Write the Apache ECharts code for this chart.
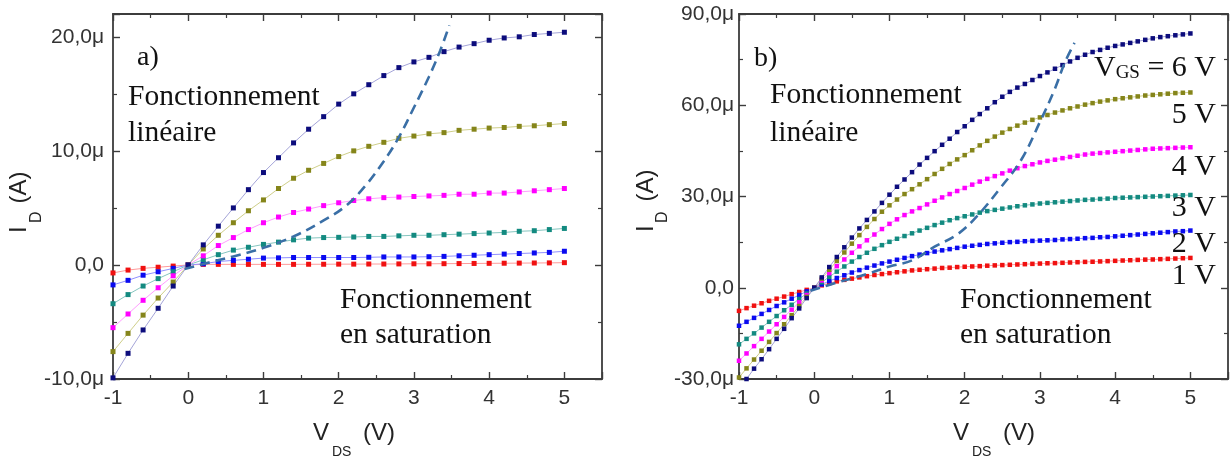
<!DOCTYPE html>
<html><head><meta charset="utf-8">
<script src="https://cdn.jsdelivr.net/npm/echarts@6/dist/echarts.min.js"></script>
<style>html,body{margin:0;padding:0;background:#fff}#c{width:1231px;height:459px}</style>
</head><body><div id="c"></div>
<script>
// ---------- data ----------
const xTicks = [-1, 0, 1, 2, 3, 4, 5];
const xTickLabels = ['-1', '0', '1', '2', '3', '4', '5'];
const yTicksA = [-10, 0, 10, 20];
const yTickLabelsA = ['-10,0μ', '0,0', '10,0μ', '20,0μ'];
const yTicksB = [-30, 0, 30, 60, 90];
const yTickLabelsB = ['-30,0μ', '0,0', '30,0μ', '60,0μ', '90,0μ'];

// panel a) : VDS step 0.2 V, ID in µA
const vdsA = [-1,-0.8,-0.6,-0.4,-0.2,0,0.2,0.4,0.6,0.8,1,1.2,1.4,1.6,1.8,2,2.2,2.4,2.6,2.8,3,3.2,3.4,3.6,3.8,4,4.2,4.4,4.6,4.8,5];
const a6 = [-9.9,-7.75,-5.7,-3.8,-1.85,0,1.76,3.4,5.0,6.6,8.1,9.4,10.7,11.9,13.0,14.1,15.0,15.8,16.6,17.3,17.8,18.2,18.7,19.1,19.4,19.7,19.9,20.0,20.2,20.3,20.4];
const a5 = [-7.6,-6.0,-4.4,-2.9,-1.5,0,1.4,2.6,3.7,4.75,5.7,6.7,7.6,8.3,8.9,9.5,10.0,10.4,10.75,11.1,11.3,11.5,11.6,11.8,11.9,12.0,12.05,12.15,12.2,12.3,12.4];
const a4 = [-5.5,-4.3,-3.1,-2.0,-0.95,0,0.8,1.7,2.4,3.1,3.7,4.2,4.6,4.9,5.2,5.45,5.65,5.8,5.9,5.95,6.0,6.05,6.1,6.2,6.2,6.3,6.3,6.4,6.5,6.6,6.7];
const a3 = [-3.4,-2.6,-1.85,-1.2,-0.6,0,0.45,0.9,1.3,1.55,1.8,2.0,2.2,2.35,2.4,2.42,2.45,2.5,2.5,2.55,2.6,2.6,2.65,2.7,2.75,2.8,2.85,2.95,3.0,3.1,3.2];
const a2 = [-1.75,-1.35,-0.9,-0.6,-0.3,0,0.1,0.3,0.4,0.5,0.6,0.62,0.65,0.65,0.65,0.65,0.65,0.67,0.7,0.7,0.7,0.72,0.75,0.8,0.85,0.9,0.95,1.0,1.05,1.1,1.2];
const a1 = [-0.7,-0.45,-0.3,-0.2,-0.1,0,0.05,0.05,0.05,0.05,0.05,0.05,0.05,0.06,0.06,0.07,0.07,0.08,0.08,0.09,0.1,0.1,0.11,0.12,0.13,0.14,0.15,0.16,0.17,0.18,0.2];
const satXA = [-0.05,0.3,0.6,1.0,1.4,1.8,2.1,2.35,2.6,2.8,3.0,3.2,3.35,3.47];
const satYA = [-0.35,0.25,0.75,1.5,2.5,3.9,5.2,6.9,9.1,11.2,13.8,16.5,18.8,21.0];

// panel b) : VDS step 0.1 V, ID in µA
const vdsB = [-1,-0.9,-0.8,-0.7,-0.6,-0.5,-0.4,-0.3,-0.2,-0.1,0,0.1,0.2,0.3,0.4,0.5,0.6,0.7,0.8,0.9,1,1.1,1.2,1.3,1.4,1.5,1.6,1.7,1.8,1.9,2,2.1,2.2,2.3,2.4,2.5,2.6,2.7,2.8,2.9,3,3.1,3.2,3.3,3.4,3.5,3.6,3.7,3.8,3.9,4,4.1,4.2,4.3,4.4,4.5,4.6,4.7,4.8,4.9,5];
const b6 = [-33,-30,-26.6,-23.5,-20.2,-16.8,-13.5,-10,-6.8,-3.4,0,3.4,6.8,10.1,13.3,16.5,19.5,22.3,25.1,27.9,30.6,33.2,35.6,38.0,40.5,42.7,44.9,47.0,49.0,51.2,53.1,55.2,57.1,59.0,61.0,62.8,64.4,65.8,67.0,68.3,69.6,70.8,72.0,73.2,74.4,75.6,76.6,77.5,78.2,78.9,79.5,80.0,80.5,81.0,81.5,82.0,82.4,82.7,83.0,83.3,83.6];
const b5 = [-29.5,-26.5,-23.6,-20.7,-17.8,-14.9,-12,-9,-6,-3,0,3,5.9,8.8,11.6,14.5,17.3,20.0,22.6,25.0,27.1,29.0,30.8,32.4,34.0,35.7,37.4,39.1,40.7,42.2,43.6,45.2,46.8,48.3,49.7,51.0,52.2,53.3,54.3,55.2,56.0,56.8,57.6,58.3,59.0,59.6,60.2,60.7,61.2,61.6,62.0,62.3,62.6,62.9,63.2,63.4,63.6,63.8,64.0,64.1,64.2];
const b4 = [-24,-21.6,-19.2,-16.8,-14.4,-12,-9.6,-7.2,-4.8,-2.4,0,2.4,4.8,7.1,9.3,11.5,13.6,15.6,17.5,19.3,21.0,22.5,23.9,25.1,26.2,27.4,28.6,29.7,30.8,31.8,32.8,33.9,34.9,35.8,36.7,37.6,38.5,39.3,40.0,40.6,41.2,41.7,42.1,42.6,43.0,43.4,43.8,44.1,44.3,44.5,44.7,44.9,45.1,45.3,45.5,45.7,45.8,45.9,46.0,46.1,46.2];
const b3 = [-18.6,-16.8,-15.0,-13.1,-11.2,-9.3,-7.4,-5.6,-3.7,-1.9,0,1.8,3.6,5.3,7.0,8.6,10.1,11.5,12.8,14.0,15.1,16.1,17.0,17.9,18.8,19.7,20.6,21.4,22.2,22.9,23.5,24.1,24.7,25.2,25.6,26.0,26.4,26.8,27.1,27.4,27.7,27.9,28.1,28.3,28.5,28.7,28.9,29.0,29.2,29.3,29.5,29.6,29.7,29.8,29.9,30.0,30.1,30.2,30.3,30.4,30.5];
const b2 = [-12.5,-11.2,-9.9,-8.6,-7.3,-6.0,-4.8,-3.6,-2.4,-1.2,0,1.1,2.2,3.2,4.1,5.0,5.8,6.6,7.3,8.0,8.6,9.2,9.8,10.4,10.9,11.4,11.9,12.3,12.7,13.1,13.5,13.8,14.1,14.4,14.6,14.8,15.0,15.1,15.3,15.4,15.5,15.6,15.7,15.9,16.0,16.1,16.3,16.4,16.6,16.7,16.9,17.1,17.3,17.5,17.7,17.9,18.1,18.3,18.5,18.6,18.8];
const b1 = [-7.6,-6.7,-5.9,-5.1,-4.3,-3.6,-2.9,-2.1,-1.4,-0.7,0,0.8,1.5,2.1,2.6,3.0,3.4,3.8,4.2,4.5,4.8,5.1,5.4,5.7,5.9,6.1,6.3,6.5,6.6,6.8,6.9,7.0,7.1,7.25,7.35,7.45,7.55,7.65,7.75,7.85,7.95,8.05,8.1,8.2,8.3,8.4,8.5,8.55,8.65,8.75,8.85,8.95,9.05,9.15,9.25,9.3,9.4,9.5,9.6,9.7,9.8];
const satXB = [-0.05,0.3,0.7,1.0,1.3,1.6,1.9,2.17,2.48,2.75,3.0,3.2,3.33,3.46];
const satYB = [-1,1.7,4.5,7.0,9.0,13.5,17.5,23.7,33,42,54.5,65.5,74,80.5];

const vgsLabels = ['{v|V}{s|GS}{v| = 6 V}', '5 V', '4 V', '3 V', '2 V', '1 V'];

// ---------- styles ----------
const markerCols = ['#0c0c7c', '#85851a', '#ff00ff', '#138a80', '#0a0af0', '#f01010'];
const lineCols   = ['#a4a4d8', '#cfcf8a', '#ff9eff', '#86c6c0', '#9090ff', '#ff9a9a'];
const axisCol = '#3c3c3c';

function xAxes(gi) {
  const base = {
    type: 'value', gridIndex: gi, min: -1, max: 5.5, interval: 1,
    axisLine: { show: true, onZero: false, lineStyle: { color: axisCol, width: 1.8 } },
    axisTick: { show: true, inside: true, length: 7, lineStyle: { color: axisCol, width: 1.4 } },
    minorTick: { show: true, splitNumber: 2, length: 4, lineStyle: { color: axisCol, width: 1.2 } },
    splitLine: { show: false }, minorSplitLine: { show: false }
  };
  return [
    Object.assign({}, base, { position: 'bottom', axisLabel: { show: true, margin: 9, fontFamily: 'Liberation Sans', fontSize: 21, color: '#333',
      formatter: v => { const i = xTicks.indexOf(v); return i >= 0 ? xTickLabels[i] : ''; } } }),
    Object.assign({}, base, { position: 'top', axisLabel: { show: false } })
  ];
}
function yAxes(gi, min, max, interval, ticks, labels, margin) {
  const base = {
    type: 'value', gridIndex: gi, min: min, max: max, interval: interval,
    axisLine: { show: true, onZero: false, lineStyle: { color: axisCol, width: 1.8 } },
    axisTick: { show: true, inside: true, length: 7, lineStyle: { color: axisCol, width: 1.4 } },
    minorTick: { show: true, splitNumber: 2, length: 4, lineStyle: { color: axisCol, width: 1.2 } },
    splitLine: { show: false }, minorSplitLine: { show: false }
  };
  return [
    Object.assign({}, base, { position: 'left', axisLabel: { show: true, margin: margin, fontFamily: 'Liberation Sans', fontSize: 21, color: '#333',
      formatter: v => { const i = ticks.indexOf(v); return i >= 0 ? labels[i] : ''; } } }),
    Object.assign({}, base, { position: 'right', axisLabel: { show: false } })
  ];
}

function curve(xs, ys, gi, k, size) {
  return {
    type: 'line', xAxisIndex: gi * 2, yAxisIndex: gi * 2,
    data: xs.map((x, i) => [x, ys[i]]),
    symbol: 'rect', symbolSize: size, showSymbol: true,
    itemStyle: { color: markerCols[k] },
    lineStyle: { color: lineCols[k], width: 1 },
    emphasis: { disabled: true }, silent: true, animation: false, z: 2
  };
}
function satLine(xs, ys, gi) {
  return {
    type: 'line', xAxisIndex: gi * 2, yAxisIndex: gi * 2,
    data: xs.map((x, i) => [x, ys[i]]), smooth: 0.4, symbol: 'none',
    lineStyle: { color: '#3a6fa6', width: 2.6, type: [10, 6] },
    emphasis: { disabled: true }, silent: true, animation: false, z: 5
  };
}

// text helpers (baseline -> middle)
const SERIF = 'Liberation Serif';
const SANS = 'Liberation Sans';
function txt(str, x, baseline, size, family, align) {
  return {
    type: 'text', x: x, y: baseline - 0.34 * size, silent: true, z: 50,
    style: { text: str, font: size + 'px "' + family + '"', fill: family === SANS ? '#222' : '#111', textAlign: align || 'left', textVerticalAlign: 'middle' }
  };
}
function rtxt(str, xMid, yStart, size) {
  return {
    type: 'text', x: xMid, y: yStart, rotation: Math.PI / 2, silent: true, z: 50,
    style: { text: str, font: size + 'px "' + SANS + '"', fill: '#222', textAlign: 'left', textVerticalAlign: 'middle' }
  };
}

const graphics = [];
// panel a annotations
graphics.push(txt('a)', 137, 67, 28, SERIF));
graphics.push(txt('Fonctionnement', 128, 107, 29.5, SERIF));
graphics.push(txt('linéaire', 128, 143, 29.5, SERIF));
graphics.push(txt('Fonctionnement', 340, 310, 29.5, SERIF));
graphics.push(txt('en saturation', 340, 345, 29.5, SERIF));
// panel b annotations
graphics.push(txt('b)', 754, 68, 28, SERIF));
graphics.push(txt('Fonctionnement', 770, 105, 29.5, SERIF));
graphics.push(txt('linéaire', 770, 143, 29.5, SERIF));
graphics.push(txt('Fonctionnement', 960, 310, 29.5, SERIF));
graphics.push(txt('en saturation', 960, 345, 29.5, SERIF));
const vgsBaselines = [78, 125, 177, 218, 254, 286];
vgsLabels.forEach((s, i) => {
  const g = txt(s, 1216, vgsBaselines[i], 30, SERIF, 'right');
  g.style.rich = { v: { font: '30px "' + SERIF + '"', fill: '#111' }, s: { font: '19px "' + SERIF + '"', fill: '#111', verticalAlign: 'bottom' } };
  graphics.push(g);
});
// axis titles
[0, 640].forEach(dx => {
  graphics.push(txt('V', 313 + dx, 441.7, 24, SANS));
  graphics.push(txt('DS', 332 + dx, 456.7, 14, SANS));
  graphics.push(txt('(V)', 363 + dx, 441.7, 24, SANS));
});
graphics.push(rtxt('I', 19.5, 233, 24));
graphics.push(rtxt('D', 36.5, 223, 16));
graphics.push(rtxt('(A)', 19.5, 203.5, 24));
graphics.push(rtxt('I', 646.4, 232, 24));
graphics.push(rtxt('D', 662.5, 223, 16));
graphics.push(rtxt('(A)', 646.4, 201.5, 24));

const xa = xAxes(0).concat(xAxes(1));
const ya = yAxes(0, -10, 22, 10, yTicksA, yTickLabelsA, 9).concat(yAxes(1, -30, 90, 30, yTicksB, yTickLabelsB, 5));

const seriesA = [a1, a2, a3, a4, a5, a6];
const seriesB = [b1, b2, b3, b4, b5, b6];
const series = [];
// colour index k: 0 navy(6V) .. 5 red(1V)
seriesA.forEach((ys, j) => series.push(curve(vdsA, ys, 0, 5 - j, 5)));
seriesB.forEach((ys, j) => series.push(curve(vdsB, ys, 1, 5 - j, 4.5)));
series.push(satLine(satXA, satYA, 0));
series.push(satLine(satXB, satYB, 1));

const chart = echarts.init(document.getElementById('c'), null, { renderer: 'canvas' });
chart.setOption({
  backgroundColor: '#ffffff',
  animation: false,
  grid: [
    { left: 113, top: 14, width: 489, height: 365 },
    { left: 739, top: 14, width: 489, height: 365 }
  ],
  xAxis: xa,
  yAxis: ya,
  series: series,
  graphic: graphics
});
</script>
</body></html>
